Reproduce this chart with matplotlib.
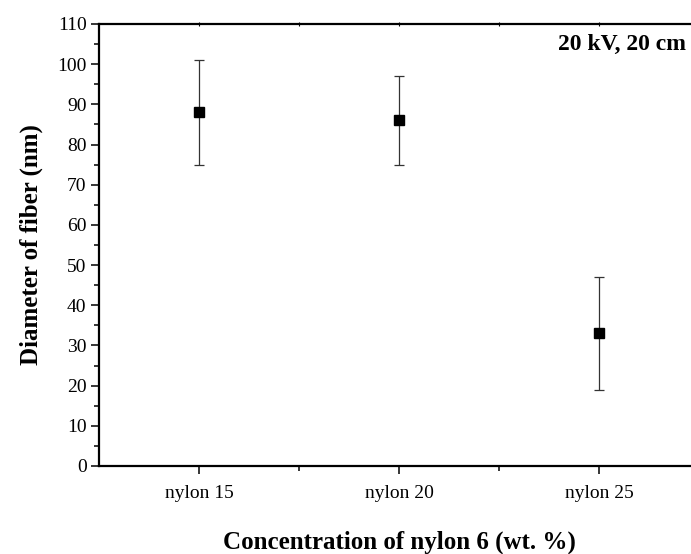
import matplotlib
matplotlib.use('Agg')
import matplotlib.pyplot as plt
from matplotlib.ticker import MultipleLocator, FixedLocator

plt.rcParams['font.family'] = ['Liberation Serif', 'DejaVu Serif']

# fiber diameter per nylon 6 concentration
samples = ['nylon 15', 'nylon 20', 'nylon 25']
diameter = [88, 86, 33]
diameter_err = [13, 11, 14]

fig = plt.figure(figsize=(6.91, 5.54), dpi=100)
ax = fig.add_axes([99 / 691, 88 / 554, 600 / 691, 442 / 554])

xpos = list(range(1, len(samples) + 1))
ax.errorbar(xpos, diameter, yerr=diameter_err, fmt='s', color='black',
            ecolor='#333333', elinewidth=0.9, capsize=3.5, capthick=0.9,
            markersize=7)

ax.set_xlim(0.5, 3.5)
ax.set_ylim(0, 110)

ax.set_xticks(xpos)
ax.set_xticklabels(samples)
ax.xaxis.set_minor_locator(FixedLocator([1.5, 2.5]))
ax.yaxis.set_major_locator(MultipleLocator(10))
ax.yaxis.set_minor_locator(MultipleLocator(5))

for side in ['left', 'bottom', 'top']:
    ax.spines[side].set_linewidth(1.6)
ax.spines['right'].set_visible(False)

ax.tick_params(which='major', direction='out', length=6, width=1.1,
               labelsize=14)
ax.tick_params(which='minor', direction='out', length=3.5, width=1.1)
ax.tick_params(axis='x', which='major', pad=8)
ax.tick_params(axis='y', which='major', pad=3)

# small ticks on the top frame
top = ax.secondary_xaxis('top')
top.set_xticks([1, 2, 3])
top.xaxis.set_minor_locator(FixedLocator([1.5, 2.5]))
top.tick_params(which='both', direction='inout', length=3, width=0.8,
                labeltop=False)
top.spines['top'].set_visible(False)

ax.set_xlabel('Concentration of nylon 6 (wt. %)', fontsize=18,
              fontweight='bold', labelpad=20)
ax.set_ylabel('Diameter of fiber (nm)', fontsize=18, fontweight='bold',
              labelpad=10)

fig.text(686 / 691, 1 - 44 / 554, '20 kV, 20 cm', fontsize=17,
         fontweight='bold', ha='right', va='center')

fig.savefig('out.png', dpi=100)
